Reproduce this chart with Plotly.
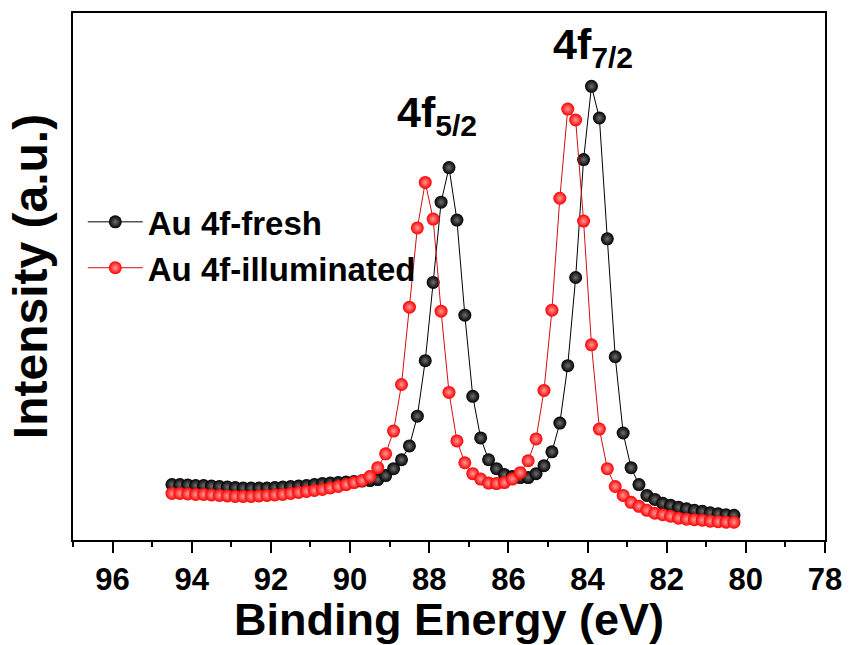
import plotly.graph_objects as go

# Binding energies of the scan (eV), 0.2 eV steps from 94.5 down to 80.3
energy = [94.5, 94.3, 94.1, 93.9, 93.7, 93.5, 93.3, 93.1, 92.9, 92.7,
          92.5, 92.3, 92.1, 91.9, 91.7, 91.5, 91.3, 91.1, 90.9, 90.7,
          90.5, 90.3, 90.1, 89.9, 89.7, 89.5, 89.3, 89.1, 88.9, 88.7,
          88.5, 88.3, 88.1, 87.9, 87.7, 87.5, 87.3, 87.1, 86.9, 86.7,
          86.5, 86.3, 86.1, 85.9, 85.7, 85.5, 85.3, 85.1, 84.9, 84.7,
          84.5, 84.3, 84.1, 83.9, 83.7, 83.5, 83.3, 83.1, 82.9, 82.7,
          82.5, 82.3, 82.1, 81.9, 81.7, 81.5, 81.3, 81.1, 80.9, 80.7,
          80.5, 80.3]

# Au 4f intensity (counts), fresh sample
fresh = [5600, 5600, 5550, 5500, 5500, 5450, 5400, 5350, 5300, 5250,
         5250, 5250, 5250, 5300, 5350, 5400, 5450, 5500, 5600, 5700,
         5750, 5800, 5850, 5900, 5950, 6000, 6100, 6500, 7200, 8100,
         9500, 12500, 18100, 26000, 34100, 37600, 32300, 22700, 14500, 10300,
         8100, 7200, 6600, 6400, 6300, 6300, 6700, 7500, 8900, 11800,
         17600, 26500, 38400, 45800, 42600, 30400, 18500, 10800, 7300, 5600,
         4500, 4100, 3700, 3500, 3300, 3150, 3000, 2900, 2750, 2650,
         2550, 2500]

# Au 4f intensity (counts), after illumination
illuminated = [4700, 4700, 4650, 4600, 4600, 4550, 4500, 4450, 4400, 4400,
               4400, 4450, 4500, 4550, 4600, 4700, 4800, 4900, 5000, 5100,
               5250, 5400, 5600, 5800, 6000, 6400, 7300, 8700, 11000, 15700,
               23500, 31500, 36100, 32400, 23100, 14900, 10000, 7800, 6700, 6150,
               5750, 5700, 5800, 6150, 6800, 8000, 10200, 15100, 23200, 34500,
               43500, 42400, 32200, 19700, 11200, 7200, 5400, 4500, 3800, 3400,
               3000, 2700, 2550, 2400, 2200, 2100, 2050, 2000, 1900, 1850,
               1800, 1800]

FONT = "Liberation Sans, Arial, sans-serif"

fig = go.Figure()

fig.add_trace(go.Scatter(
    x=energy, y=fresh, mode="lines+markers", name="Au 4f-fresh",
    line=dict(color="black", width=1),
    marker=dict(size=13, color="black", line=dict(width=0),
                gradient=dict(type="radial", color="#6e6e6e")),
))
fig.add_trace(go.Scatter(
    x=energy, y=illuminated, mode="lines+markers", name="Au 4f-illuminated",
    line=dict(color="#d01010", width=1),
    marker=dict(size=13, color="#ff0000", line=dict(width=0),
                gradient=dict(type="radial", color="#ff9a9a")),
))

fig.add_annotation(x=87.8, y=40000, xref="x", yref="y", text="<b>4f<sub>5/2</sub></b>",
                   showarrow=False, yanchor="bottom", xanchor="center",
                   font=dict(family=FONT, size=43, color="black"))
fig.add_annotation(x=83.85, y=46800, xref="x", yref="y", text="<b>4f<sub>7/2</sub></b>",
                   showarrow=False, yanchor="bottom", xanchor="center",
                   font=dict(family=FONT, size=43, color="black"))

fig.update_layout(
    width=853, height=645,
    margin=dict(l=73, r=23, t=11, b=102),
    paper_bgcolor="white", plot_bgcolor="white",
    font=dict(family=FONT, color="black"),
    showlegend=True,
    legend=dict(x=0.013, y=0.56, xanchor="left", yanchor="middle",
                bgcolor="rgba(0,0,0,0)", borderwidth=0,
                font=dict(family=FONT, size=33, color="black", weight="bold"),
                itemwidth=55, tracegroupgap=0),
    xaxis=dict(
        range=[97, 78], tick0=96, dtick=2,
        ticks="outside", ticklen=11, tickwidth=2, tickcolor="black",
        minor=dict(dtick=1, ticks="outside", ticklen=5, tickwidth=2, tickcolor="black"),
        showline=True, linewidth=2, linecolor="black", mirror=True,
        showgrid=False, zeroline=False,
        tickfont=dict(family=FONT, size=31, color="black", weight="bold"),
        title=dict(text="<b>Binding Energy (eV)</b>",
                   font=dict(family=FONT, size=45, color="black"), standoff=5),
    ),
    yaxis=dict(
        range=[0, 53200],
        showticklabels=False, ticks="",
        showline=True, linewidth=2, linecolor="black", mirror=True,
        showgrid=False, zeroline=False,
        title=dict(text="<b>Intensity (a.u.)</b>",
                   font=dict(family=FONT, size=48, color="black"), standoff=8),
    ),
)

fig.write_html("out.html")
